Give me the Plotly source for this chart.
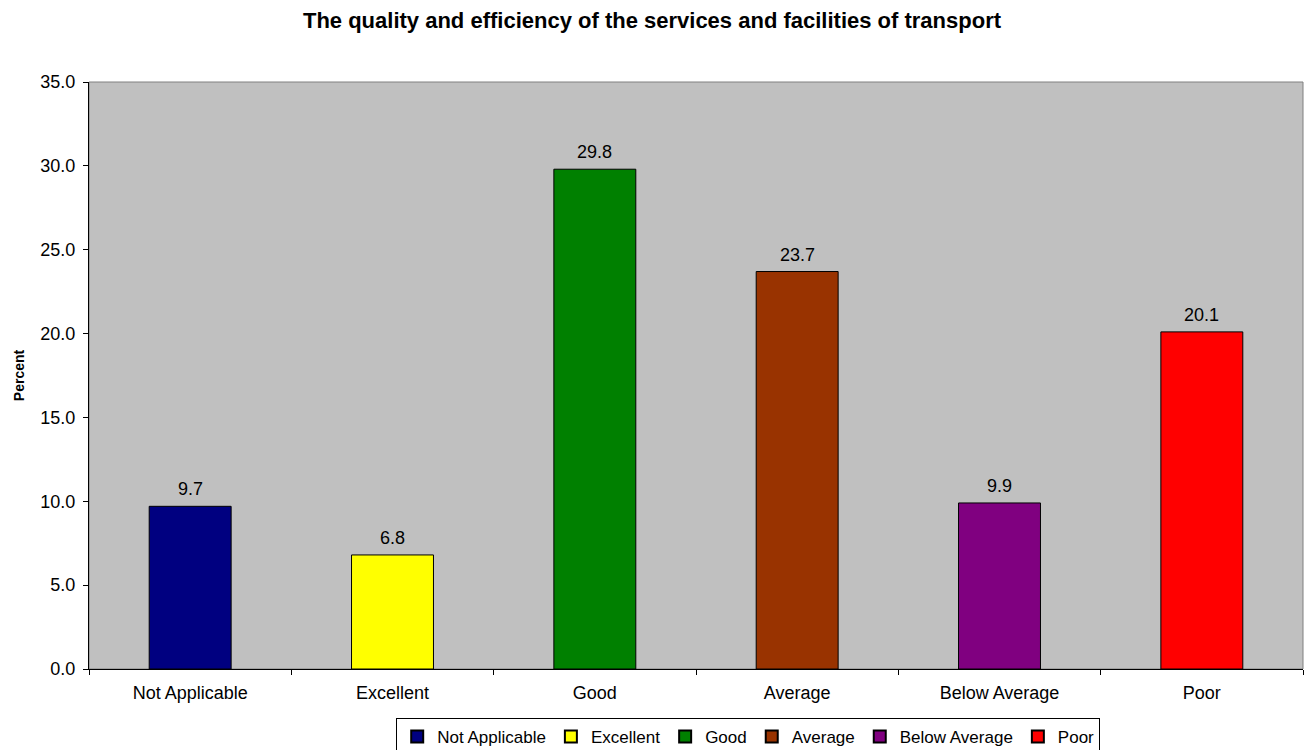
import plotly.graph_objects as go

categories = ["Not Applicable", "Excellent", "Good", "Average", "Below Average", "Poor"]
percent = [9.7, 6.8, 29.8, 23.7, 9.9, 20.1]
bar_colors = ["#000080", "#FFFF00", "#008000", "#993300", "#800080", "#FF0000"]
y_ticks = [0, 5, 10, 15, 20, 25, 30, 35]
y_tick_labels = [f"{v:.1f}" for v in y_ticks]

FONT = "Liberation Sans, Arial, sans-serif"

fig = go.Figure()
for cat, val, col in zip(categories, percent, bar_colors):
    fig.add_trace(go.Bar(
        x=[cat], y=[val], name=cat,
        marker=dict(color=col, line=dict(color="#000000", width=1)),
    ))
    # value label sitting just above the bar
    fig.add_annotation(
        x=cat, y=val, xref="x", yref="y",
        text=f"{val:.1f}", showarrow=False,
        xanchor="center", yanchor="bottom", yshift=5,
        font=dict(family=FONT, size=18, color="#000000"),
    )

fig.update_layout(
    width=1304, height=750,
    margin=dict(l=89, r=1, t=82, b=81, autoexpand=False),
    paper_bgcolor="#FFFFFF",
    plot_bgcolor="#C0C0C0",
    barmode="overlay",
    bargap=0.595,
    title=dict(
        text="<b>The quality and efficiency of the services and facilities of transport</b>",
        x=0.5, xref="container", xanchor="center",
        y=1 - 20 / 750, yref="container", yanchor="middle",
        font=dict(family=FONT, size=22, color="#000000"),
    ),
    font=dict(family=FONT, size=17, color="#000000"),
    showlegend=True,
    legend=dict(
        orientation="h",
        x=0.543, xanchor="center",
        y=-0.0835, yanchor="top",
        bordercolor="#000000", borderwidth=1,
        bgcolor="#FFFFFF",
        font=dict(family=FONT, size=17, color="#000000"),
        itemsizing="constant",
        traceorder="normal",
        itemwidth=30,
    ),
    shapes=[dict(
        type="rect", xref="paper", yref="paper", x0=0, x1=1, y0=0, y1=1,
        line=dict(color="#808080", width=1), layer="below",
    )],
)

fig.update_xaxes(
    type="category",
    categoryorder="array", categoryarray=categories,
    showline=True, linecolor="#000000", linewidth=1,
    ticks="outside", ticklen=5, tickcolor="#000000",
    tickson="boundaries",
    ticklabelstandoff=7,
    showgrid=False, zeroline=False,
    tickfont=dict(family=FONT, size=18),
)
fig.update_yaxes(
    range=[0, 35],
    tickvals=y_ticks, ticktext=y_tick_labels,
    showline=True, linecolor="#000000", linewidth=1,
    ticks="outside", ticklen=5, tickcolor="#000000",
    ticklabelstandoff=4,
    showgrid=False, zeroline=False,
    tickfont=dict(family=FONT, size=18),
    title=dict(text="<b>Percent</b>", font=dict(family=FONT, size=14), standoff=12),
)

fig.write_html("out.html")
